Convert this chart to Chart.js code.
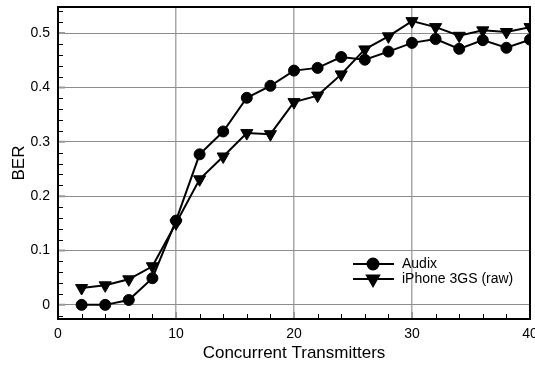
<!DOCTYPE html>
<html>
<head>
<meta charset="utf-8">
<title>BER vs Concurrent Transmitters</title>
<script src="https://cdn.jsdelivr.net/npm/chart.js@4.4.1/dist/chart.umd.min.js"></script>
<style>
  body { margin: 0; background: #fff; }
  #wrap { width: 535px; height: 366px; }
</style>
</head>
<body>
<div id="wrap"><canvas id="berChart" width="535" height="366"></canvas></div>
<script>
'use strict';

const transmitters = [2, 4, 6, 8, 10, 12, 14, 16, 18, 20, 22, 24, 26, 28, 30, 32, 34, 36, 38, 40];
const audixBer = [0, 0, 0.009, 0.049, 0.155, 0.277, 0.319, 0.381, 0.403, 0.431,
  0.436, 0.456, 0.451, 0.466, 0.482, 0.489, 0.471, 0.487, 0.473, 0.488];
const iphoneBer = [0.031, 0.036, 0.047, 0.071, 0.150, 0.231, 0.273, 0.316, 0.314, 0.373,
  0.385, 0.424, 0.470, 0.494, 0.522, 0.511, 0.495, 0.505, 0.502, 0.511];

const xTicks = [0, 10, 20, 30, 40];
const yTicks = [0, 0.1, 0.2, 0.3, 0.4, 0.5];
const seriesNames = ['Audix', 'iPhone 3GS (raw)'];

const FONT = "'Liberation Sans', Arial, Helvetica, sans-serif";
Chart.defaults.font.family = FONT;
Chart.defaults.color = '#000';

// frame, inside minor ticks and the grey major stubs
const frameTicks = {
  id: 'frameTicks',
  afterDraw(chart) {
    const ctx = chart.ctx;
    const area = chart.chartArea;
    const xs = chart.scales.x;
    const ys = chart.scales.y;
    ctx.save();

    ctx.strokeStyle = '#000';
    ctx.lineWidth = 1;
    ctx.beginPath();
    for (let v = 2; v < 40; v += 2) {
      if (v % 10 === 0) continue;
      const px = Math.round(xs.getPixelForValue(v)) + 0.5;
      ctx.moveTo(px, area.bottom);
      ctx.lineTo(px, area.bottom - 5);
    }
    for (let i = -1; i <= 27; i++) {
      if (i % 5 === 0) continue;
      const py = Math.round(ys.getPixelForValue(i * 0.02)) + 0.5;
      if (py < area.top + 2 || py > area.bottom - 2) continue;
      ctx.moveTo(area.left, py);
      ctx.lineTo(area.left + 5, py);
    }
    ctx.stroke();

    ctx.strokeStyle = '#999';
    ctx.lineWidth = 2;
    ctx.beginPath();
    xTicks.slice(1, -1).forEach(v => {
      const px = xs.getPixelForValue(v);
      ctx.moveTo(px, area.bottom);
      ctx.lineTo(px, area.bottom - 7);
    });
    yTicks.forEach(v => {
      const py = ys.getPixelForValue(v);
      ctx.moveTo(area.left, py);
      ctx.lineTo(area.left + 7, py);
    });
    ctx.stroke();

    ctx.strokeStyle = '#000';
    ctx.lineWidth = 2;
    ctx.strokeRect(area.left, area.top, area.right - area.left, area.bottom - area.top);
    ctx.restore();
  }
};

// legend drawn inside the plot, lower right
const innerLegend = {
  id: 'innerLegend',
  afterDraw(chart) {
    const ctx = chart.ctx;
    const area = chart.chartArea;
    const x0 = area.right - 177;
    const rowY = [area.bottom - 55, area.bottom - 40];
    ctx.save();
    chart.data.datasets.forEach((ds, i) => {
      const y = rowY[i];
      ctx.strokeStyle = '#000';
      ctx.lineWidth = 2;
      ctx.beginPath();
      ctx.moveTo(x0, y);
      ctx.lineTo(x0 + 41, y);
      ctx.stroke();
      ctx.fillStyle = '#000';
      Chart.helpers.drawPoint(ctx, {
        pointStyle: ds.pointStyle,
        radius: ds.pointRadius,
        rotation: ds.pointRotation || 0,
        borderWidth: 1
      }, x0 + 20, y);
      ctx.fillStyle = '#000';
      ctx.font = '14px ' + FONT;
      ctx.textBaseline = 'middle';
      ctx.textAlign = 'left';
      ctx.fillText(seriesNames[i], x0 + 49, y);
    });
    ctx.restore();
  }
};

const ctx = document.getElementById('berChart').getContext('2d');
const berChart = new Chart(ctx, {
  type: 'line',
  data: {
    labels: transmitters,
    datasets: [{
      label: seriesNames[0],
      data: transmitters.map((t, i) => ({ x: t, y: audixBer[i] })),
      borderColor: '#000',
      backgroundColor: '#000',
      borderWidth: 2,
      pointStyle: 'circle',
      pointRadius: 5.5,
      pointBorderWidth: 1,
      tension: 0
    }, {
      label: seriesNames[1],
      data: transmitters.map((t, i) => ({ x: t, y: iphoneBer[i] })),
      borderColor: '#000',
      backgroundColor: '#000',
      borderWidth: 2,
      pointStyle: 'triangle',
      pointRotation: 180,
      pointRadius: 7,
      pointBorderWidth: 1,
      tension: 0
    }]
  },
  options: {
    responsive: false,
    animation: false,
    devicePixelRatio: 1,
    layout: { autoPadding: false, padding: { top: 7, right: 5, bottom: 0, left: 0 } },
    plugins: {
      legend: { display: false },
      tooltip: { enabled: false }
    },
    scales: {
      x: {
        type: 'linear',
        min: 0,
        max: 40,
        afterBuildTicks: scale => { scale.ticks = xTicks.map(v => ({ value: v })); },
        afterFit: scale => {
          scale.height = 47;
          scale.paddingLeft = 0;
          scale.paddingRight = 0;
        },
        grid: {
          color: c => (c.tick && (c.tick.value === 0 || c.tick.value === 40)) ? 'rgba(0,0,0,0)' : '#a8a8a8',
          lineWidth: 1.5,
          drawTicks: false
        },
        border: { display: false },
        ticks: { font: { size: 14 }, color: '#000', padding: 7, maxRotation: 0 },
        title: {
          display: true,
          text: 'Concurrent Transmitters',
          font: { size: 17 },
          color: '#000',
          padding: { top: 0, bottom: 2 }
        }
      },
      y: {
        type: 'linear',
        min: -0.026,
        max: 0.548,
        afterBuildTicks: scale => { scale.ticks = yTicks.map(v => ({ value: v })); },
        afterFit: scale => {
          scale.width = 58;
          scale.paddingTop = 0;
          scale.paddingBottom = 0;
        },
        grid: {
          color: '#8c8c8c',
          lineWidth: 1,
          drawTicks: false
        },
        border: { display: false },
        ticks: {
          font: { size: 14 },
          color: '#000',
          padding: 8,
          callback: v => (v === 0 ? '0' : v.toFixed(1))
        },
        title: {
          display: true,
          text: 'BER',
          font: { size: 17 },
          color: '#000',
          padding: { top: 9, bottom: 0 }
        }
      }
    }
  },
  plugins: [frameTicks, innerLegend]
});
</script>
</body>
</html>
